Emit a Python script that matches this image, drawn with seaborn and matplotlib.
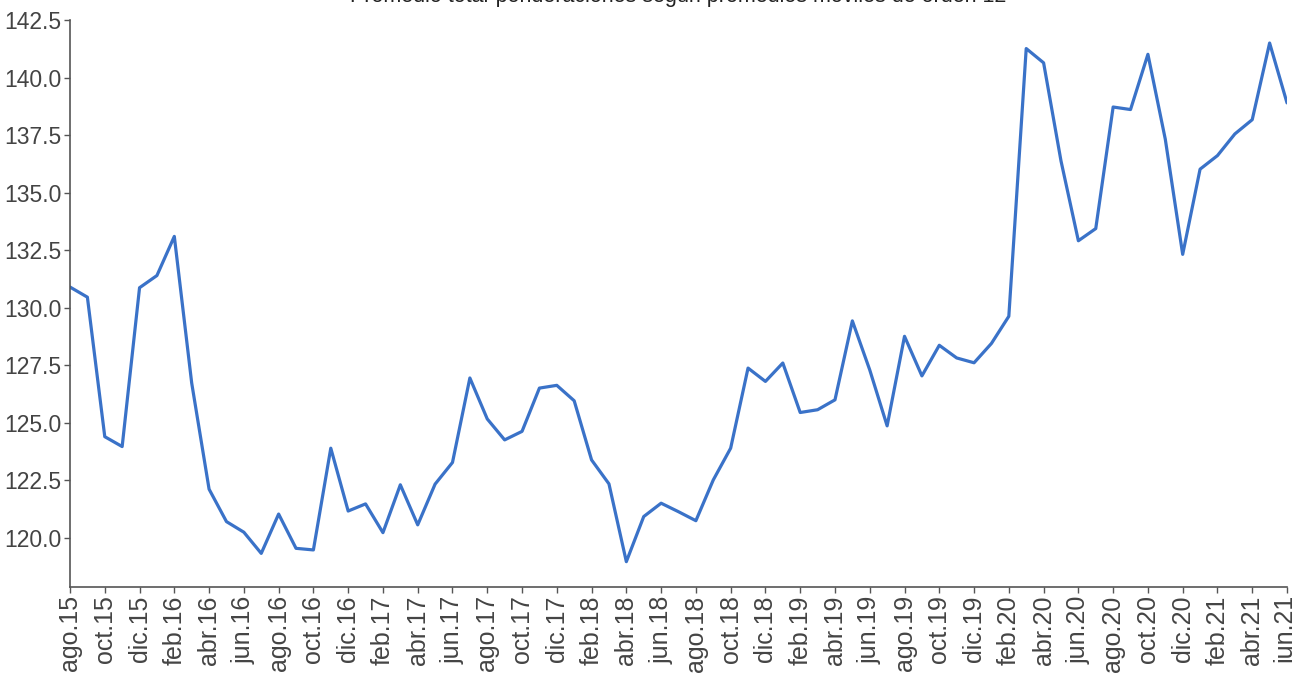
import numpy as np
import pandas as pd
import matplotlib
matplotlib.use("Agg")
import matplotlib.pyplot as plt
import seaborn as sns

# ---- datos ----
meses = ["ene", "feb", "mar", "abr", "may", "jun", "jul", "ago", "sep", "oct", "nov", "dic"]
periodos = [f"{meses[(7 + i) % 12]}.{15 + (7 + i) // 12}" for i in range(71)]

valores = [
    130.9, 130.46, 124.4, 123.97, 130.87, 131.4, 133.1, 126.73, 122.12, 120.71,
    120.25, 119.33, 121.04, 119.55, 119.48, 123.9, 121.17, 121.48, 120.23, 122.31,
    120.57, 122.34, 123.28, 126.95, 125.17, 124.26, 124.63, 126.51, 126.63, 125.96,
    123.39, 122.35, 118.97, 120.93, 121.51, 121.14, 120.75, 122.52, 123.9, 127.38,
    126.8, 127.6, 125.45, 125.57, 126.0, 129.43, 127.3, 124.87, 128.76, 127.04,
    128.37, 127.82, 127.61, 128.45, 129.63, 141.26, 140.64, 136.38, 132.91, 133.44,
    138.72, 138.61, 141.01, 137.32, 132.32, 136.02, 136.61, 137.55, 138.17, 141.5,
    138.9,
]

df = pd.DataFrame({"pos": range(len(valores)), "periodo": periodos, "valor": valores})

# ---- grafico ----
sns.set_style("ticks")
plt.rcParams["font.family"] = ["Liberation Sans", "DejaVu Sans"]

fig = plt.figure(figsize=(12.92, 6.77), dpi=100)
ax = fig.add_axes([70 / 1292, 1 - 587 / 677, 1217 / 1292, 567 / 677])

sns.lineplot(data=df, x="pos", y="valor", color="#3a72c8", linewidth=2.3, ax=ax)

ax.set_xlim(0, len(valores) - 1)
ax.set_ylim(117.87, 142.5)
yt = np.arange(120, 142.6, 2.5)
ax.set_yticks(yt)
ax.set_yticklabels([f"{v:.1f}" for v in yt], fontsize=16.5, color="#444444")
ax.set_xticks(df["pos"][::2])
ax.set_xticklabels(df["periodo"][::2], rotation=90, fontsize=18, color="#444444")
ax.tick_params(axis="both", length=4, width=1, color="#555555", pad=2)
ax.set_xlabel("")
ax.set_ylabel("")

sns.despine(ax=ax)
for s in ["left", "bottom"]:
    ax.spines[s].set_color("#555555")
    ax.spines[s].set_linewidth(1.2)

ax.set_title("Promedio total-ponderaciones según promedios móviles de orden 12",
             fontsize=15.5, color="#222222", pad=13)

fig.savefig("out.png", dpi=100)
